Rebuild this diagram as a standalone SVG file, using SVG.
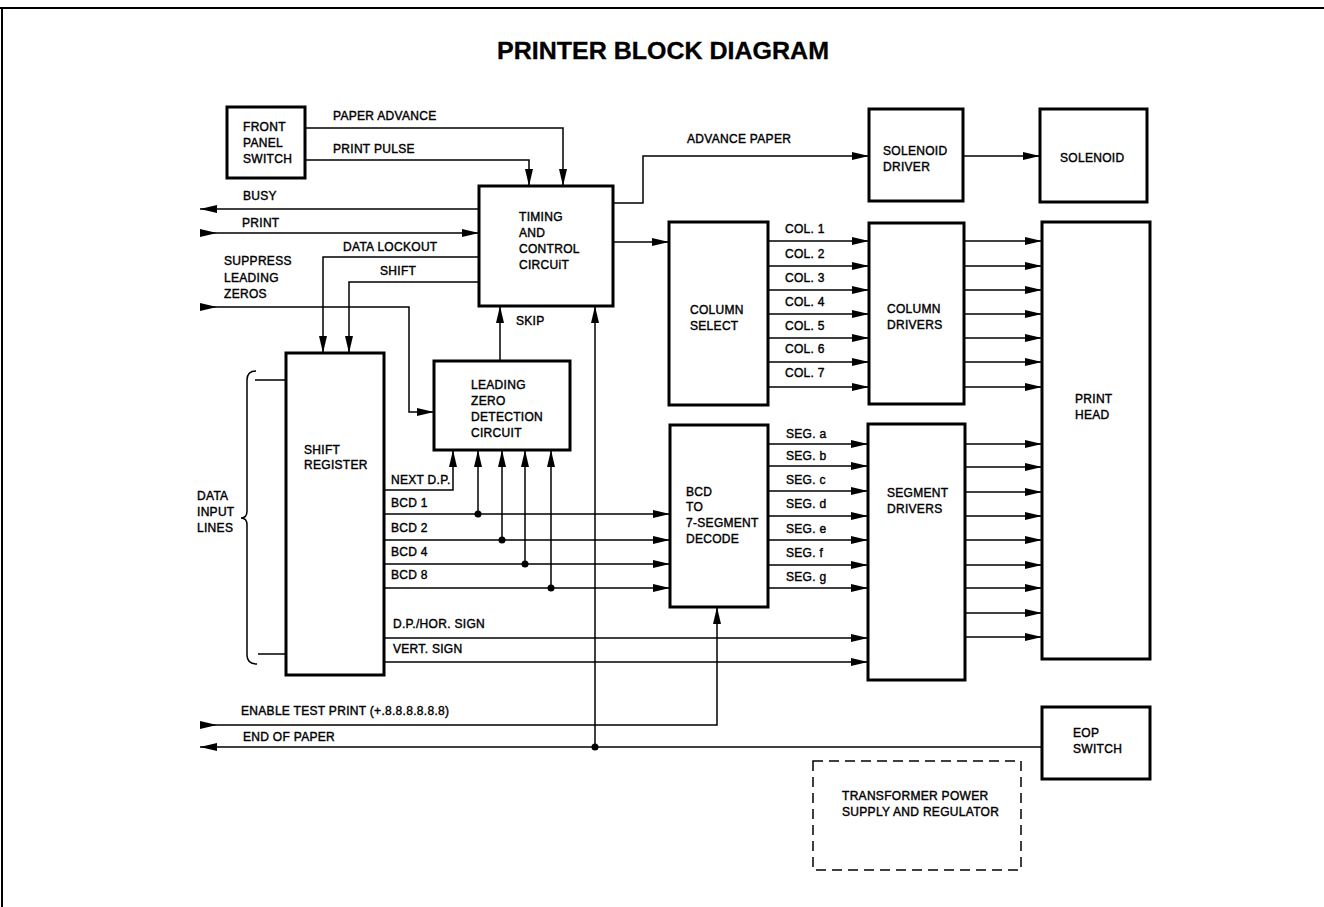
<svg xmlns="http://www.w3.org/2000/svg" width="1324" height="907" viewBox="0 0 1324 907">
<style>
text{font-family:"Liberation Sans",Arial,sans-serif;font-size:12px;letter-spacing:0.3px;fill:#000;stroke:#000;stroke-width:0.4}
.title{font-size:23px;font-weight:bold;letter-spacing:0;stroke-width:0.3}
.box{fill:#fff;stroke:#000;stroke-width:3}
.dash{fill:none;stroke:#000;stroke-width:1.5;stroke-dasharray:10 6}
.c{fill:none;stroke:#000;stroke-width:1.5}
.a{marker-end:url(#arr)}
.t{marker-start:url(#tail)}
.dot{fill:#000}
</style>
<defs>
<marker id="arr" markerUnits="userSpaceOnUse" markerWidth="17" markerHeight="9" refX="17" refY="4.5" orient="auto" viewBox="0 0 17 9"><path d="M0,0.5 L17,4.5 L0,8.5 z" fill="#000"/></marker>
<marker id="tail" markerUnits="userSpaceOnUse" markerWidth="17" markerHeight="9" refX="0" refY="4.5" orient="auto" viewBox="0 0 17 9"><path d="M0,0.5 L17,4.5 L0,8.5 z" fill="#000"/></marker>
</defs>
<rect width="1324" height="907" fill="#fff"/>
<path d="M0,8 H1324 M2,8 V907" fill="none" stroke="#000" stroke-width="2"/>
<text class="title" x="663" y="59" text-anchor="middle" textLength="332" lengthAdjust="spacingAndGlyphs">PRINTER BLOCK DIAGRAM</text>

<g id="connectors">
<path class="c a" d="M305,128 H563 V186"/>
<path class="c a" d="M305,160 H529 V186"/>
<path class="c a" d="M479,209 H200"/>
<path class="c a t" d="M200,233 H479"/>
<path class="c a" d="M479,257 H323 V353"/>
<path class="c a" d="M479,282 H349 V353"/>
<path class="c a t" d="M200,307 H409 V412 H434"/>
<path class="c a" d="M500,361 V306"/>
<path class="c a" d="M1042,747 H200"/>
<path class="c a" d="M595,747 V306"/>
<circle class="dot" cx="595" cy="747" r="3.5"/>
<path class="c a" d="M613,203 H643 V156 H869"/>
<path class="c a" d="M963,156 H1040"/>
<path class="c a" d="M613,242 H669"/>
<path class="c a" d="M768,241 H869"/>
<path class="c a" d="M768,266 H869"/>
<path class="c a" d="M768,290 H869"/>
<path class="c a" d="M768,314 H869"/>
<path class="c a" d="M768,338 H869"/>
<path class="c a" d="M768,362 H869"/>
<path class="c a" d="M768,387 H869"/>
<path class="c a" d="M964,241 H1042"/>
<path class="c a" d="M964,266 H1042"/>
<path class="c a" d="M964,290 H1042"/>
<path class="c a" d="M964,314 H1042"/>
<path class="c a" d="M964,338 H1042"/>
<path class="c a" d="M964,362 H1042"/>
<path class="c a" d="M964,387 H1042"/>
<path class="c a" d="M768,444 H868"/>
<path class="c a" d="M768,466 H868"/>
<path class="c a" d="M768,491 H868"/>
<path class="c a" d="M768,516 H868"/>
<path class="c a" d="M768,540 H868"/>
<path class="c a" d="M768,565 H868"/>
<path class="c a" d="M768,588 H868"/>
<path class="c a" d="M965,444 H1042"/>
<path class="c a" d="M965,467 H1042"/>
<path class="c a" d="M965,492 H1042"/>
<path class="c a" d="M965,516 H1042"/>
<path class="c a" d="M965,540 H1042"/>
<path class="c a" d="M965,565 H1042"/>
<path class="c a" d="M965,588 H1042"/>
<path class="c a" d="M965,613 H1042"/>
<path class="c a" d="M965,637 H1042"/>
<path class="c a" d="M384,490 H453 V450"/>
<path class="c a" d="M384,514 H670"/>
<path class="c a" d="M478,514 V450"/>
<circle class="dot" cx="478" cy="514" r="3.5"/>
<path class="c a" d="M384,540 H670"/>
<path class="c a" d="M502,540 V450"/>
<circle class="dot" cx="502" cy="540" r="3.5"/>
<path class="c a" d="M384,564 H670"/>
<path class="c a" d="M525,564 V450"/>
<circle class="dot" cx="525" cy="564" r="3.5"/>
<path class="c a" d="M384,588 H670"/>
<path class="c a" d="M551,588 V450"/>
<circle class="dot" cx="551" cy="588" r="3.5"/>
<path class="c a" d="M384,638 H868"/>
<path class="c a" d="M384,662 H868"/>
<path class="c a t" d="M200,725 H717 V607"/>
<path class="c" d="M256,371 Q247,371 247,380 V511 Q247,518 241,518 Q247,518 247,525 V655 Q247,664 257,664"/>
<path class="c" d="M255,380 H286 M258,654 H286"/>
</g>

<g id="labels">
<text x="333" y="120">PAPER ADVANCE</text>
<text x="333" y="153">PRINT PULSE</text>
<text x="243" y="200">BUSY</text>
<text x="242" y="227">PRINT</text>
<text x="343" y="251">DATA LOCKOUT</text>
<text x="224" y="265">SUPPRESS</text>
<text x="224" y="282">LEADING</text>
<text x="224" y="298">ZEROS</text>
<text x="380" y="275">SHIFT</text>
<text x="516" y="325">SKIP</text>
<text x="687" y="143">ADVANCE PAPER</text>
<text x="785" y="233">COL. 1</text>
<text x="785" y="258">COL. 2</text>
<text x="785" y="282">COL. 3</text>
<text x="785" y="306">COL. 4</text>
<text x="785" y="330">COL. 5</text>
<text x="785" y="353">COL. 6</text>
<text x="785" y="377">COL. 7</text>
<text x="786" y="438">SEG. a</text>
<text x="786" y="460">SEG. b</text>
<text x="786" y="484">SEG. c</text>
<text x="786" y="508">SEG. d</text>
<text x="786" y="533">SEG. e</text>
<text x="786" y="557">SEG. f</text>
<text x="786" y="581">SEG. g</text>
<text x="391" y="484">NEXT D.P.</text>
<text x="391" y="507">BCD 1</text>
<text x="391" y="532">BCD 2</text>
<text x="391" y="556">BCD 4</text>
<text x="391" y="579">BCD 8</text>
<text x="393" y="628">D.P./HOR. SIGN</text>
<text x="393" y="653">VERT. SIGN</text>
<text x="241" y="715">ENABLE TEST PRINT (+.8.8.8.8.8.8)</text>
<text x="243" y="741">END OF PAPER</text>
<text x="197" y="500">DATA</text>
<text x="197" y="516">INPUT</text>
<text x="197" y="532">LINES</text>
</g>

<g id="front-panel-switch"><rect class="box" x="227" y="107" width="78" height="71"/><text x="243" y="131">FRONT</text><text x="243" y="147">PANEL</text><text x="243" y="163">SWITCH</text></g>
<g id="timing-control"><rect class="box" x="479" y="186" width="134" height="120"/><text x="519" y="221">TIMING</text><text x="519" y="237">AND</text><text x="519" y="253">CONTROL</text><text x="519" y="269">CIRCUiT</text></g>
<g id="solenoid-driver"><rect class="box" x="869" y="109" width="94" height="92"/><text x="883" y="155">SOLENOID</text><text x="883" y="171">DRIVER</text></g>
<g id="solenoid"><rect class="box" x="1040" y="109" width="107" height="93"/><text x="1060" y="162">SOLENOID</text></g>
<g id="column-select"><rect class="box" x="669" y="222" width="99" height="183"/><text x="690" y="314">COLUMN</text><text x="690" y="330">SELECT</text></g>
<g id="column-drivers"><rect class="box" x="869" y="223" width="95" height="181"/><text x="887" y="313">COLUMN</text><text x="887" y="329">DRIVERS</text></g>
<g id="print-head"><rect class="box" x="1042" y="222" width="108" height="437"/><text x="1075" y="403">PRINT</text><text x="1075" y="419">HEAD</text></g>
<g id="shift-register"><rect class="box" x="286" y="353" width="98" height="322"/><text x="304" y="454">SHIFT</text><text x="304" y="469">REGISTER</text></g>
<g id="leading-zero-detection"><rect class="box" x="434" y="361" width="136" height="89"/><text x="471" y="389">LEADING</text><text x="471" y="405">ZERO</text><text x="471" y="421">DETECTION</text><text x="471" y="437">CIRCUIT</text></g>
<g id="bcd-decode"><rect class="box" x="670" y="425" width="98" height="182"/><text x="686" y="496">BCD</text><text x="686" y="511">TO</text><text x="686" y="527">7-SEGMENT</text><text x="686" y="543">DECODE</text></g>
<g id="segment-drivers"><rect class="box" x="868" y="424" width="97" height="256"/><text x="887" y="497">SEGMENT</text><text x="887" y="513">DRIVERS</text></g>
<g id="eop-switch"><rect class="box" x="1042" y="707" width="108" height="72"/><text x="1073" y="737">EOP</text><text x="1073" y="753">SWITCH</text></g>
<g id="power-supply"><rect class="dash" x="813" y="761" width="208" height="109"/><text x="842" y="800">TRANSFORMER POWER</text><text x="842" y="816">SUPPLY AND REGULATOR</text></g>
</svg>
